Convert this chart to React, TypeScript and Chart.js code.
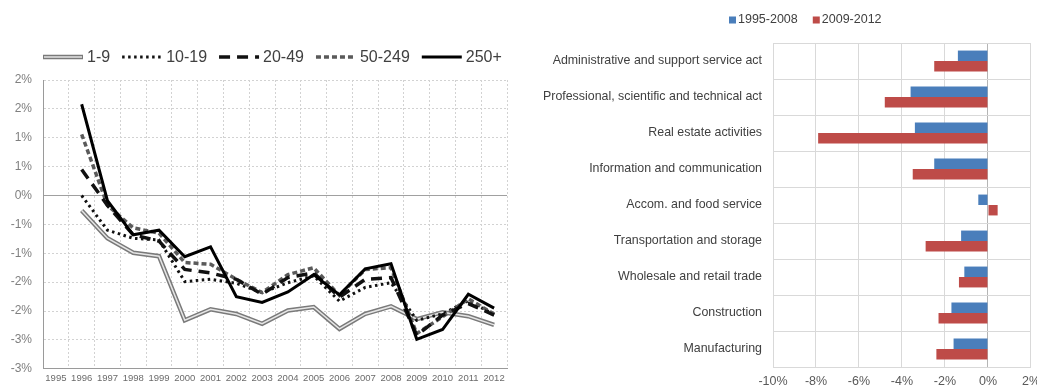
import React, { useEffect, useRef } from "react";
import { Chart, registerables } from "chart.js";
Chart.register(...registerables);

const FONT = "'Liberation Sans', Arial, sans-serif";

// ---------- Left chart data (percent) ----------
const years = ["1995", "1996", "1997", "1998", "1999", "2000", "2001", "2002", "2003", "2004", "2005", "2006", "2007", "2008", "2009", "2010", "2011", "2012"];
const size1to9 = [null, -0.26, -0.74, -0.99, -1.05, -2.16, -1.97, -2.05, -2.22, -1.99, -1.93, -2.31, -2.05, -1.92, -2.14, -2.02, -2.09, -2.24];
const size10to19 = [null, 0.0, -0.6, -0.74, -0.77, -1.49, -1.45, -1.52, -1.68, -1.51, -1.39, -1.83, -1.59, -1.51, -2.16, -2.05, -1.82, -2.06];
const size20to49 = [null, 0.45, -0.17, -0.68, -0.79, -1.28, -1.34, -1.45, -1.71, -1.42, -1.34, -1.76, -1.45, -1.42, -2.42, -2.07, -1.87, -2.07];
const size50to249 = [null, 1.06, -0.17, -0.56, -0.65, -1.16, -1.19, -1.45, -1.68, -1.37, -1.25, -1.73, -1.28, -1.25, -2.39, -2.1, -1.79, -2.05];
const size250plus = [null, 1.58, -0.09, -0.68, -0.6, -1.06, -0.89, -1.75, -1.85, -1.67, -1.37, -1.72, -1.27, -1.18, -2.49, -2.32, -1.71, -1.95];

// ---------- Right chart data (percent) ----------
const sectors = [
  "Administrative and support service act",
  "Professional, scientific and technical act",
  "Real estate activities",
  "Information and communication",
  "Accom. and food service",
  "Transportation and storage",
  "Wholesale and retail trade",
  "Construction",
  "Manufacturing",
];
const period1995to2008 = [-1.4, -3.6, -3.4, -2.5, -0.45, -1.25, -1.1, -1.7, -1.6];
const period2009to2012 = [-2.5, -4.8, -7.9, -3.5, 0.45, -2.9, -1.35, -2.3, -2.4];

const roundPct = (v: number) => {
  const r = Math.sign(v) * Math.round(Math.abs(v) + 1e-9);
  return (r === 0 ? 0 : r) + "%";
};

const leftLegendPlugin = {
  id: "leftLegend",
  afterDraw(chart: any) {
    const ctx = chart.ctx;
    ctx.save();
    ctx.font = `16px ${FONT}`;
    ctx.textBaseline = "middle";
    let x = 43;
    const y = 57;
    const dsets = chart.data.datasets;
    dsets.forEach((ds: any) => {
      if (ds.isInner) return;
      ctx.beginPath();
      ctx.setLineDash(ds.borderDash || []);
      ctx.lineWidth = ds.borderWidth;
      ctx.strokeStyle = ds.borderColor;
      ctx.lineCap = ds.borderCapStyle || "butt";
      ctx.moveTo(x, y);
      ctx.lineTo(x + 40, y);
      ctx.stroke();
      const inner = dsets.find((d: any) => d.isInner && d.innerOf === ds.label);
      if (inner) {
        ctx.beginPath();
        ctx.setLineDash([]);
        ctx.lineWidth = inner.borderWidth;
        ctx.strokeStyle = inner.borderColor;
        ctx.moveTo(x + 1, y);
        ctx.lineTo(x + 39, y);
        ctx.stroke();
      }
      ctx.setLineDash([]);
      ctx.fillStyle = "#404040";
      ctx.fillText(ds.label, x + 44, y + 1);
      x += 44 + ctx.measureText(ds.label).width + 12;
    });
    ctx.restore();
  },
};

const rightLegendPlugin = {
  id: "rightLegend",
  afterDraw(chart: any) {
    const ctx = chart.ctx;
    ctx.save();
    ctx.font = `12.5px ${FONT}`;
    ctx.textBaseline = "middle";
    let x = 209;
    const y = 20;
    chart.data.datasets.forEach((ds: any) => {
      ctx.fillStyle = ds.backgroundColor;
      ctx.fillRect(x, y - 3.5, 7, 7);
      ctx.fillStyle = "#404040";
      ctx.fillText(ds.label, x + 9, y);
      x += 9 + ctx.measureText(ds.label).width + 15;
    });
    ctx.restore();
  },
};

function LeftChart() {
  const ref = useRef<HTMLCanvasElement>(null);
  useEffect(() => {
    const chart = new Chart(ref.current!, {
      type: "line",
      data: {
        labels: years,
        datasets: [
          { label: "1-9", data: size1to9, borderColor: "#7a7a7a", borderWidth: 4.5, order: 6 } as any,
          { label: "", isInner: true, innerOf: "1-9", data: size1to9, borderColor: "#e6e6e6", borderWidth: 1.5, order: 5 } as any,
          { label: "10-19", data: size10to19, borderColor: "#111111", borderWidth: 3, borderDash: [2.5, 3.5], order: 4 },
          { label: "20-49", data: size20to49, borderColor: "#111111", borderWidth: 3.5, borderDash: [11, 7], order: 2 },
          { label: "50-249", data: size50to249, borderColor: "#5a5a5a", borderWidth: 3.5, borderDash: [5, 3], order: 3 },
          { label: "250+", data: size250plus, borderColor: "#000000", borderWidth: 3, order: 1 },
        ],
      },
      options: {
        animation: false,
        responsive: false,
        devicePixelRatio: 1,
        layout: { padding: { top: 80, right: 13, left: 0, bottom: 0 } },
        elements: { point: { radius: 0 }, line: { tension: 0 } },
        plugins: { legend: { display: false }, tooltip: { enabled: false } },
        scales: {
          x: {
            type: "category",
            offset: true,
            grid: { offset: true, color: "#d2d2d2", drawTicks: false },
            border: { display: true, color: "#9a9a9a", dash: [2, 2] },
            ticks: { autoSkip: false, maxRotation: 0, minRotation: 0, padding: 4, color: "#6b6b6b", font: { size: 9.5, family: FONT } },
            afterFit: (s: any) => { s.height = 14; },
          },
          y: {
            min: -3,
            max: 2,
            grid: {
              drawTicks: false,
              color: (c: any) => (c.tick && c.tick.value === 0 ? "#a0a0a0" : "#d2d2d2"),
            },
            border: {
              display: true,
              color: "#9a9a9a",
              dash: (c: any) => (c.tick && c.tick.value === 0 ? [] : [2, 2]),
            },
            ticks: {
              stepSize: 0.5,
              padding: 11,
              color: "#7f7f7f",
              font: { size: 12, family: FONT },
              callback: (v: any) => roundPct(Number(v)),
            },
            afterFit: (s: any) => { s.width = 43; },
          },
        },
      } as any,
      plugins: [leftLegendPlugin],
    });
    return () => chart.destroy();
  }, []);
  return <canvas ref={ref} width={520} height={387} style={{ display: "block" }} />;
}

function RightChart() {
  const ref = useRef<HTMLCanvasElement>(null);
  useEffect(() => {
    const chart = new Chart(ref.current!, {
      type: "bar",
      data: {
        labels: sectors,
        datasets: [
          { label: "1995-2008", data: period1995to2008, backgroundColor: "#4a7ebb" },
          { label: "2009-2012", data: period2009to2012, backgroundColor: "#be4b48" },
        ],
      },
      options: {
        indexAxis: "y",
        animation: false,
        responsive: false,
        devicePixelRatio: 1,
        layout: { padding: { top: 43, left: 0, right: 0, bottom: 0 } },
        datasets: { bar: { categoryPercentage: 0.58, barPercentage: 1 } },
        plugins: { legend: { display: false }, tooltip: { enabled: false } },
        scales: {
          x: {
            min: -10,
            max: 2,
            grid: {
              drawTicks: false,
              color: (c: any) => (c.tick && c.tick.value === 0 ? "#b5b5b5" : "#d9d9d9"),
            },
            border: { display: true, color: "#d9d9d9" },
            ticks: {
              stepSize: 2,
              padding: 7,
              color: "#595959",
              font: { size: 12.5, family: FONT },
              callback: (v: any) => v + "%",
            },
            afterFit: (s: any) => { s.height = 20; },
          },
          y: {
            grid: { drawTicks: false, color: "#d9d9d9", offset: true },
            border: { display: true, color: "#d9d9d9" },
            ticks: { autoSkip: false, padding: 11, color: "#404040", font: { size: 12.4, family: FONT } },
            afterFit: (s: any) => { s.width = 253; },
          },
        },
      } as any,
      plugins: [rightLegendPlugin],
    });
    return () => chart.destroy();
  }, []);
  return <canvas ref={ref} width={527} height={387} style={{ display: "block" }} />;
}

export default function App() {
  return (
    <div style={{ position: "fixed", left: 0, top: 0, width: 1037, height: 387, background: "#ffffff", overflow: "hidden" }}>
      <div style={{ position: "absolute", left: 0, top: 0, width: 520, height: 387 }}>
        <LeftChart />
      </div>
      <div style={{ position: "absolute", left: 520, top: 0, width: 527, height: 387 }}>
        <RightChart />
      </div>
    </div>
  );
}
